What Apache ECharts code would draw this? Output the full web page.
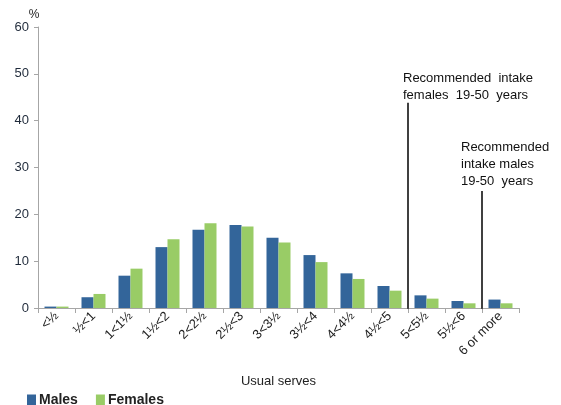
<!DOCTYPE html>
<html>
<head>
<meta charset="utf-8">
<script src="https://cdn.jsdelivr.net/npm/echarts@6/dist/echarts.min.js"></script>
<style>
  html, body { margin: 0; padding: 0; background: #fff; }
  #chart { width: 561px; height: 405px; }
</style>
</head>
<body>
<div id="chart"></div>
<script>
// Usual serves distribution, males vs females
const categories = ["<½", "½<1", "1<1½", "1½<2", "2<2½", "2½<3", "3<3½", "3½<4", "4<4½", "4½<5", "5<5½", "5½<6", "6 or more"];
const males = [0.3, 2.3, 6.9, 13.0, 16.7, 17.7, 15.0, 11.3, 7.4, 4.7, 2.7, 1.5, 1.8];
const females = [0.3, 3.0, 8.4, 14.7, 18.1, 17.4, 14.0, 9.8, 6.2, 3.7, 2.0, 1.0, 1.0];
const yTicks = [0, 10, 20, 30, 40, 50, 60];
// recommended intake lines: position on category boundaries and height in %
const femaleLine = [[10, -0.4], [10, 43.8]];
const maleLine = [[12, -0.4], [12, 25.0]];

const font = "Liberation Sans, Arial, sans-serif";

const refLine = (data) => ({
  type: "line",
  xAxisIndex: 1,
  data: data,
  symbol: "none",
  silent: true,
  lineStyle: { color: "#000", width: 1.5 },
  z: 5
});

const option = {
  animation: false,
  grid: { left: 38, right: 42, top: 27, bottom: 97 },
  legend: {
    left: 22,
    top: 388,
    itemWidth: 9,
    itemHeight: 11,
    itemGap: 18,
    icon: "rect",
    textStyle: { fontFamily: font, fontSize: 14, fontWeight: "bold", color: "#222", padding: [0, 0, 0, -2] },
    data: ["Males", "Females"]
  },
  xAxis: [
    {
      type: "category",
      data: categories,
      name: "Usual serves",
      nameLocation: "middle",
      nameGap: 67,
      nameTextStyle: { fontFamily: font, fontSize: 13, color: "#222" },
      axisLine: { lineStyle: { color: "#a6a6a6", width: 1 } },
      axisTick: { show: true, length: 5, lineStyle: { color: "#a6a6a6" } },
      axisLabel: {
        rotate: 45,
        interval: 0,
        margin: 6,
        fontFamily: font,
        fontSize: 13,
        color: "#222"
      }
    },
    {
      type: "value",
      min: 0,
      max: categories.length,
      show: false
    }
  ],
  yAxis: {
    type: "value",
    min: 0,
    max: 60,
    interval: 10,
    name: "%",
    nameLocation: "end",
    nameGap: 6,
    nameTextStyle: { fontFamily: font, fontSize: 12, color: "#222", align: "center", padding: [0, 0, 0, -8] },
    axisLine: { show: true, lineStyle: { color: "#a6a6a6", width: 1 } },
    axisTick: { show: true, length: 4, lineStyle: { color: "#a6a6a6" } },
    axisLabel: {
      margin: 9,
      fontFamily: font,
      fontSize: 13,
      color: "#1f2a3a",
      formatter: (v) => yTicks.includes(v) ? String(v) : ""
    },
    splitLine: { show: false }
  },
  series: [
    {
      name: "Males",
      type: "bar",
      data: males,
      barWidth: 12,
      barGap: "0%",
      itemStyle: { color: "#33659a" }
    },
    {
      name: "Females",
      type: "bar",
      data: females,
      barWidth: 12,
      barGap: "0%",
      itemStyle: { color: "#99cc66" }
    },
    refLine(femaleLine),
    refLine(maleLine)
  ],
  graphic: [
    {
      type: "text",
      left: 403,
      top: 70,
      style: {
        text: "Recommended  intake\nfemales  19-50  years",
        fontFamily: font,
        fontSize: 13,
        lineHeight: 17,
        fill: "#111"
      }
    },
    {
      type: "text",
      left: 461,
      top: 139,
      style: {
        text: "Recommended\nintake males\n19-50  years",
        fontFamily: font,
        fontSize: 13,
        lineHeight: 17,
        fill: "#111"
      }
    }
  ]
};

const chart = echarts.init(document.getElementById("chart"));
chart.setOption(option);
window.addEventListener("resize", () => chart.resize());
</script>
</body>
</html>
